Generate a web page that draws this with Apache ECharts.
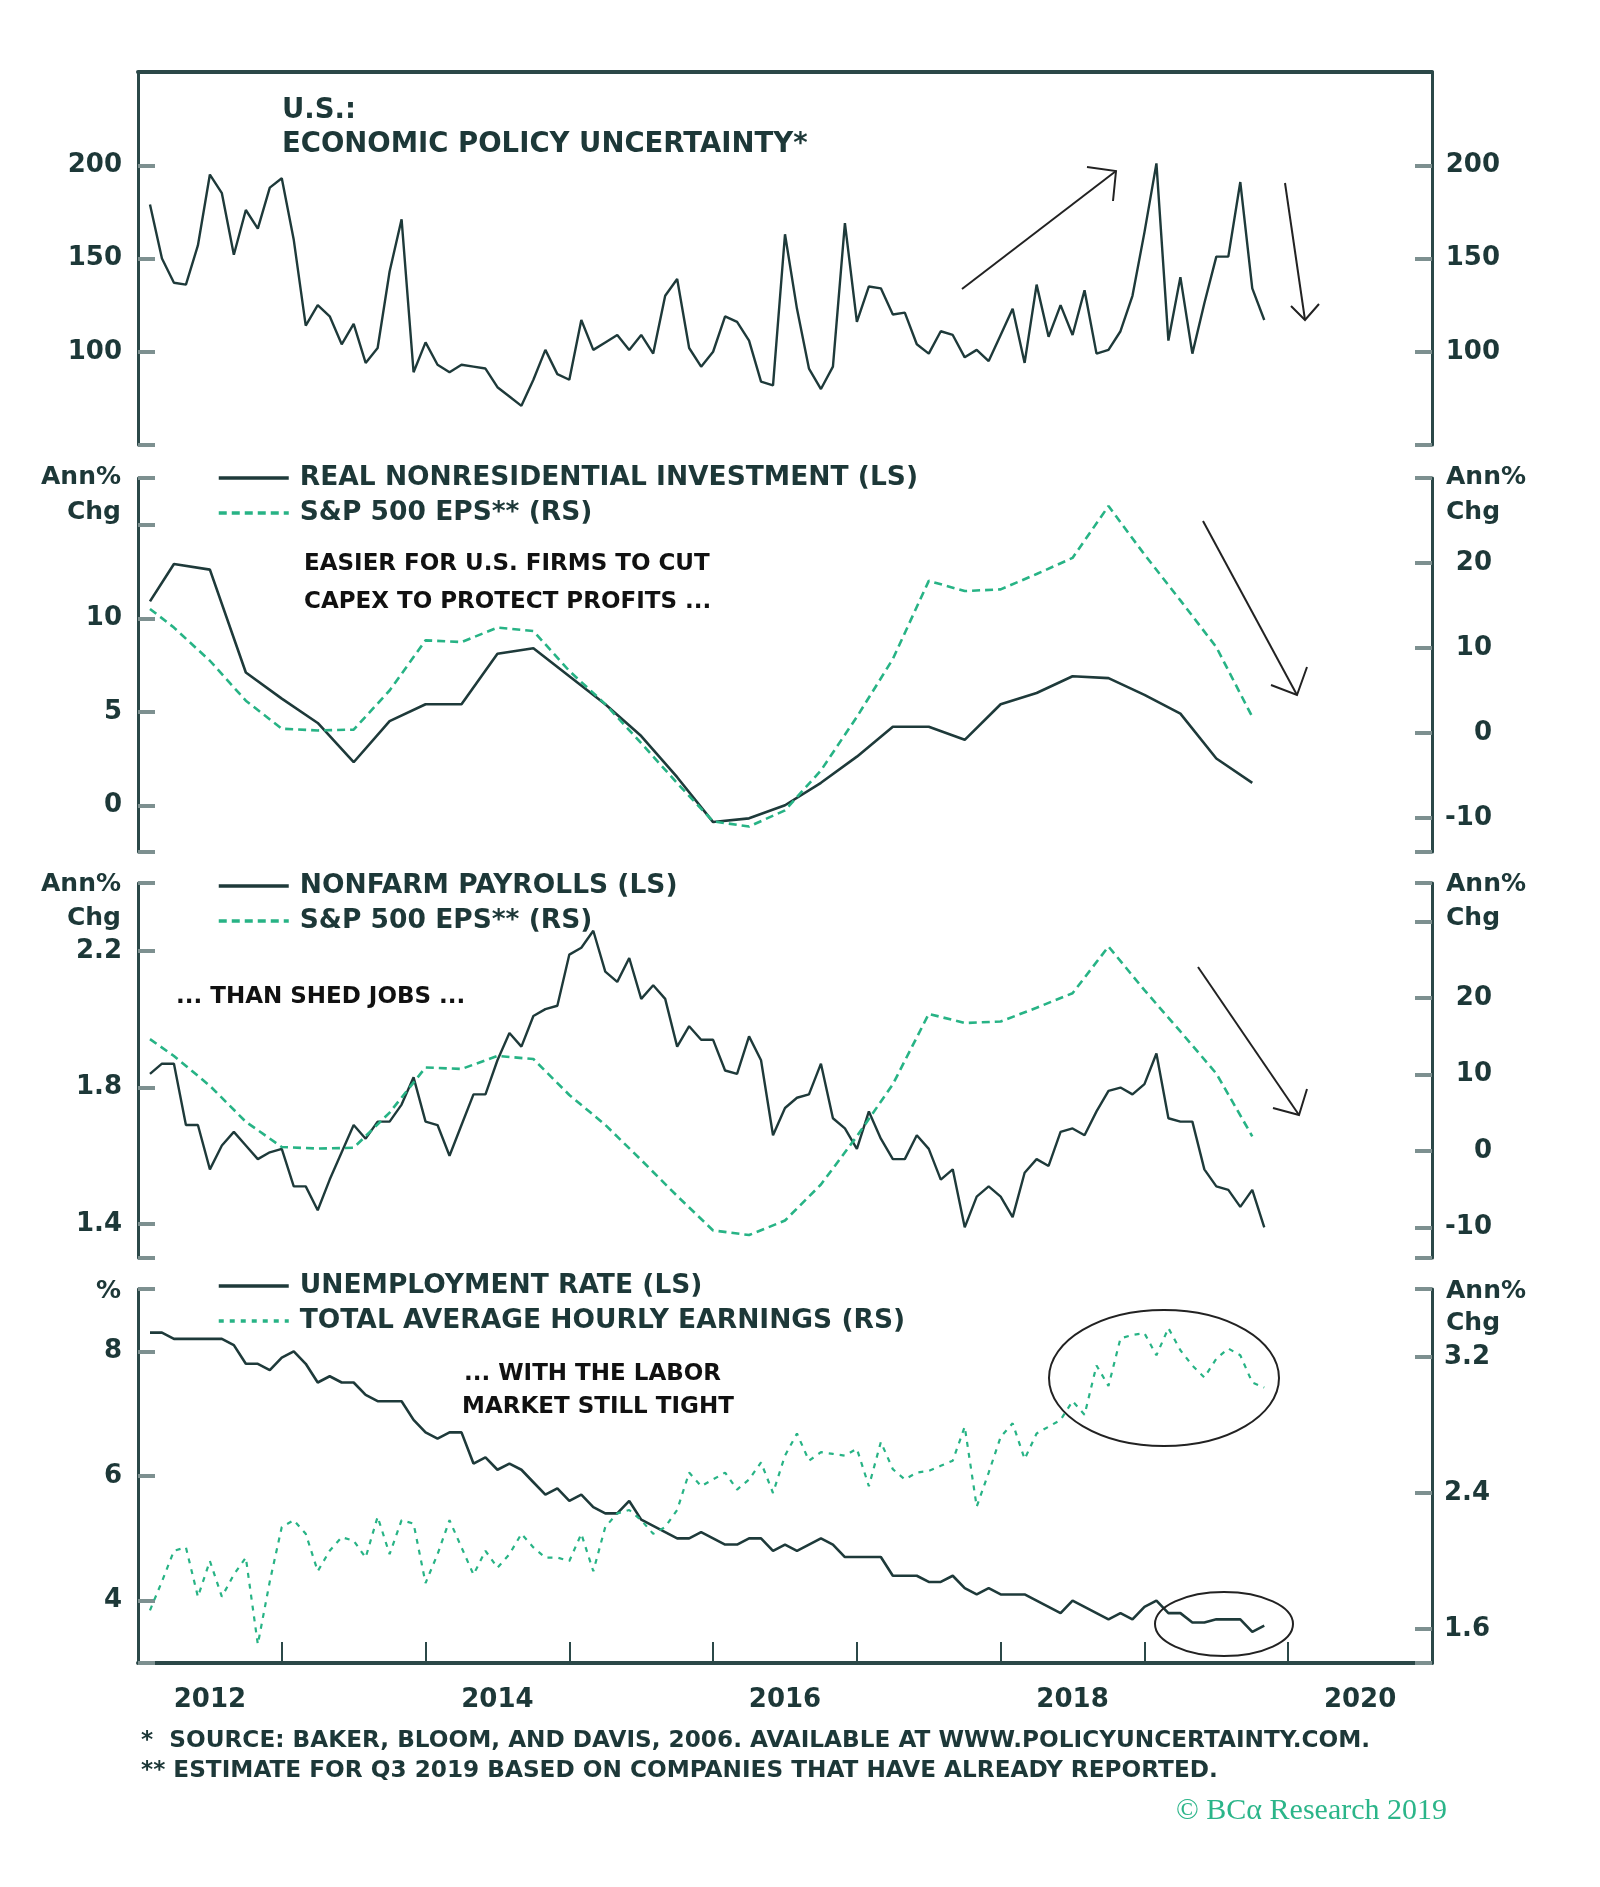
<!DOCTYPE html>
<html><head><meta charset="utf-8">
<script src="https://cdn.jsdelivr.net/npm/echarts@6/dist/echarts.min.js"></script>
<style>html,body{margin:0;padding:0;background:#fff}#c{width:1600px;height:1887px}</style>
</head><body><div id="c"></div><script>
// ---- data (monthly: Jan 2012 .. Oct 2019; quarterly: Q4 2011 .. Q3 2019) ----
const epu = [179,150,137,136,157,195,185,152,176,166,188,193,
  160,114,125,119,104,115,94,102,143,171,89,105,
  93,89,93,92,91,81,76,71,85,101,88,85,
  117,101,105,109,101,109,99,130,139,102,92,100,
  119,116,106,84,82,163,123,91,80,92,169,116,
  135,134,120,121,104,99,111,109,97,101,95,109,
  123,94,136,108,125,109,133,99,101,111,130,164,
  201,106,140,99,126,151,151,191,134,117];
const investment = [10.9,12.9,12.6,7.1,5.7,4.4,2.3,4.5,5.4,5.4,8.1,8.4,6.9,5.4,3.7,1.5,
  -0.9,-0.7,0.0,1.2,2.6,4.2,4.2,3.5,5.4,6.0,6.9,6.8,5.9,4.9,2.5,1.2];
const spEps = [14.6,12.4,8.5,3.8,0.5,0.3,0.4,5.0,10.9,10.7,12.4,12.0,7.3,3.4,-1.2,-5.9,
  -10.4,-11.0,-9.1,-4.4,1.9,8.7,17.9,16.7,16.9,18.7,20.6,26.7,21.0,15.6,10.1,1.9];
const payrolls = [1.84,1.87,1.87,1.69,1.69,1.56,1.63,1.67,1.63,1.59,1.61,1.62,
  1.51,1.51,1.44,1.53,1.61,1.69,1.65,1.70,1.70,1.75,1.83,1.70,
  1.69,1.60,1.69,1.78,1.78,1.88,1.96,1.92,2.01,2.03,2.04,2.19,
  2.21,2.26,2.14,2.11,2.18,2.06,2.10,2.06,1.92,1.98,1.94,1.94,
  1.85,1.84,1.95,1.88,1.66,1.74,1.77,1.78,1.87,1.71,1.68,1.62,
  1.73,1.65,1.59,1.59,1.66,1.62,1.53,1.56,1.39,1.48,1.51,1.48,
  1.42,1.55,1.59,1.57,1.67,1.68,1.66,1.73,1.79,1.80,1.78,1.81,
  1.90,1.71,1.70,1.70,1.56,1.51,1.50,1.45,1.50,1.39];
const unemployment = [8.3,8.3,8.2,8.2,8.2,8.2,8.2,8.1,7.8,7.8,7.7,7.9,
  8.0,7.8,7.5,7.6,7.5,7.5,7.3,7.2,7.2,7.2,6.9,6.7,
  6.6,6.7,6.7,6.2,6.3,6.1,6.2,6.1,5.9,5.7,5.8,5.6,
  5.7,5.5,5.4,5.4,5.6,5.3,5.2,5.1,5.0,5.0,5.1,5.0,
  4.9,4.9,5.0,5.0,4.8,4.9,4.8,4.9,5.0,4.9,4.7,4.7,
  4.7,4.7,4.4,4.4,4.4,4.3,4.3,4.4,4.2,4.1,4.2,4.1,
  4.1,4.1,4.0,3.9,3.8,4.0,3.9,3.8,3.7,3.8,3.7,3.9,
  4.0,3.8,3.8,3.65,3.65,3.7,3.7,3.7,3.5,3.6];
const hourlyEarnings = [1.71,1.88,2.06,2.08,1.79,2.00,1.79,1.92,2.02,1.51,1.88,2.20,
  2.24,2.16,1.94,2.06,2.14,2.12,2.02,2.26,2.04,2.24,2.22,1.87,
  2.04,2.24,2.08,1.92,2.06,1.96,2.04,2.16,2.08,2.02,2.02,2.00,
  2.16,1.94,2.20,2.28,2.30,2.24,2.16,2.20,2.30,2.52,2.44,2.48,
  2.52,2.42,2.48,2.58,2.40,2.62,2.75,2.59,2.64,2.63,2.62,2.66,
  2.44,2.70,2.54,2.48,2.52,2.53,2.56,2.59,2.79,2.32,2.52,2.73,
  2.81,2.60,2.75,2.79,2.83,2.94,2.86,3.15,3.03,3.31,3.33,3.34,
  3.21,3.37,3.24,3.15,3.08,3.19,3.25,3.21,3.05,3.02];
const yearLabels = [2012, 2014, 2016, 2018, 2020];
const yearTicks = [2013, 2014, 2015, 2016, 2017, 2018, 2019, 2020];

// dates as decimal years: monthly at end of month; quarterly at quarter end
// (the first quarterly point, Q4 2011, is drawn at the chart's first month)
const monthX = epu.map((_, i) => 2012 + (i + 1) / 12);
const quarterX = investment.map((_, q) => q === 0 ? 2012 + 1 / 12 : 2012 + q / 4);
const pairs = (xs, ys) => ys.map((v, i) => [xs[i], v]);

const NAME_EPU = 'ECONOMIC POLICY UNCERTAINTY';
const NAME_INV = 'REAL NONRESIDENTIAL INVESTMENT (LS)';
const NAME_EPS = 'S&P 500 EPS** (RS)';
const NAME_NFP = 'NONFARM PAYROLLS (LS)';
const NAME_UR = 'UNEMPLOYMENT RATE (LS)';
const NAME_AHE = 'TOTAL AVERAGE HOURLY EARNINGS (RS)';

const dark = '#1e3a3a', axisCol = '#2b4848', tickCol = '#7d9090', green = '#27b385', txt = '#1d3838';
const FONT = '"DejaVu Sans"';

const grids = [
  {left: 138, right: 168, top: 72, height: 373},
  {left: 138, right: 168, top: 478, height: 374},
  {left: 138, right: 168, top: 883, height: 375},
  {left: 138, right: 168, top: 1289, height: 374}
];

function yAx(gi, pos, min, max, ticks, labels, margin) {
  return {type: 'value', gridIndex: gi, position: pos, min: min, max: max,
    axisLine: {show: true, onZero: false, lineStyle: {color: axisCol, width: 3}},
    axisTick: {show: true, inside: true, length: 17, customValues: ticks, lineStyle: {color: tickCol, width: 4}},
    axisLabel: {show: true, customValues: labels, margin: margin, align: 'right', color: txt,
      fontSize: 26, fontWeight: 'bold', fontFamily: FONT},
    splitLine: {show: false}};
}
function hiddenX(gi) {
  return {type: 'value', gridIndex: gi, min: 2012, max: 2021, show: false};
}

const xAxis = [
  hiddenX(0),
  {type: 'value', gridIndex: 0, position: 'top', min: 2012, max: 2021,
    axisLine: {show: true, lineStyle: {color: axisCol, width: 4}}, axisTick: {show: false},
    axisLabel: {show: false}, splitLine: {show: false}},
  hiddenX(1),
  hiddenX(2),
  {type: 'value', gridIndex: 3, position: 'bottom', min: 2012, max: 2021,
    axisLine: {show: true, onZero: false, lineStyle: {color: axisCol, width: 4}},
    axisTick: {show: true, inside: true, length: 21, customValues: yearTicks, lineStyle: {color: axisCol, width: 2}},
    axisLabel: {show: true, customValues: yearLabels.map(y => y + 0.5), formatter: v => String(Math.floor(v)),
      margin: 24, color: txt, fontSize: 26, fontWeight: 'bold', fontFamily: FONT},
    splitLine: {show: false}}
];

const yAxis = [
  yAx(0, 'left', 50, 250, [50, 100, 150, 200], [100, 150, 200], 16),
  yAx(0, 'right', 50, 250, [50, 100, 150, 200], [100, 150, 200], 68),
  yAx(1, 'left', -2.5, 17.5, [-2.5, 0, 5, 10, 15, 17.5], [0, 5, 10], 16),
  yAx(1, 'right', -14, 30, [-14, -10, 0, 10, 20, 30], [-10, 0, 10, 20], 60),
  yAx(2, 'left', 1.3, 2.4, [1.3, 1.4, 1.8, 2.2, 2.4], [1.4, 1.8, 2.2], 16),
  yAx(2, 'right', -14, 35, [-14, -10, 0, 10, 20, 30, 35], [-10, 0, 10, 20], 60),
  yAx(3, 'left', 3, 9, [3, 4, 6, 8, 9], [4, 6, 8], 16),
  yAx(3, 'right', 1.4, 3.6, [1.4, 1.6, 2.4, 3.2, 3.6], [1.6, 2.4, 3.2], 58)
];

function line(name, xi, yi, data, style) {
  return {type: 'line', name: name, xAxisIndex: xi, yAxisIndex: yi, data: data,
    symbol: 'none', showSymbol: false, silent: true, animation: false,
    lineStyle: style, itemStyle: {color: style.color}};
}

const series = [
  line(NAME_EPU, 0, 0, pairs(monthX, epu), {color: dark, width: 2.4}),
  line(NAME_INV, 2, 2, pairs(quarterX, investment), {color: dark, width: 2.6}),
  line(NAME_EPS, 2, 3, pairs(quarterX, spEps), {color: green, width: 2.6, type: [8, 5]}),
  line(NAME_NFP, 3, 4, pairs(monthX, payrolls), {color: dark, width: 2.4}),
  line(NAME_EPS, 3, 5, pairs(quarterX, spEps), {color: green, width: 2.6, type: [8, 5]}),
  line(NAME_UR, 4, 6, pairs(monthX, unemployment), {color: dark, width: 2.6}),
  line(NAME_AHE, 4, 7, pairs(monthX, hourlyEarnings), {color: green, width: 2.2, type: [5, 6]})
];

function legend(top, names) {
  return {left: 212, top: top, orient: 'vertical', itemWidth: 70, itemHeight: 12, itemGap: 5,
    selectedMode: false, data: names, itemStyle: {opacity: 0},
    lineStyle: {width: 3.5},
    textStyle: {color: txt, fontSize: 26.5, fontWeight: 'bold', fontFamily: FONT, lineHeight: 30, padding: [0, 0, 0, 6]}};
}

function T(text, x, y, opt) {
  opt = opt || {};
  return {type: 'text', x: x, y: y, silent: true, z: 10,
    style: {text: text, fill: opt.fill || txt,
      font: opt.font || ('bold 25px ' + FONT),
      textAlign: opt.align || 'left', align: opt.align || 'left',
      textVerticalAlign: 'middle', verticalAlign: 'middle'}};
}
const annFont = 'bold 23px ' + FONT;
const noteFont = 'bold 23.2px ' + FONT;
function poly(points) {
  return {type: 'polyline', silent: true, z: 10, shape: {points: points},
    style: {stroke: '#222', lineWidth: 2, fill: null}};
}

const graphic = [
  T('U.S.:', 282, 111, {font: 'bold 27.5px ' + FONT}),
  T('ECONOMIC POLICY UNCERTAINTY*', 282, 145, {font: 'bold 27.5px ' + FONT}),
  T('Ann%', 121, 477, {align: 'right'}), T('Chg', 121, 512, {align: 'right'}),
  T('Ann%', 1446, 477), T('Chg', 1446, 512),
  T('Ann%', 121, 884, {align: 'right'}), T('Chg', 121, 918, {align: 'right'}),
  T('Ann%', 1446, 884), T('Chg', 1446, 918),
  T('%', 121, 1291, {align: 'right'}),
  T('Ann%', 1446, 1291), T('Chg', 1446, 1323),
  T('EASIER FOR U.S. FIRMS TO CUT', 304, 564, {font: annFont, fill: '#111'}),
  T('CAPEX TO PROTECT PROFITS ...', 304, 602, {font: annFont, fill: '#111'}),
  T('... THAN SHED JOBS ...', 176, 997, {font: annFont, fill: '#111'}),
  T('... WITH THE LABOR', 464, 1374, {font: annFont, fill: '#111'}),
  T('MARKET STILL TIGHT', 462, 1407, {font: annFont, fill: '#111'}),
  T('*  SOURCE: BAKER, BLOOM, AND DAVIS, 2006. AVAILABLE AT WWW.POLICYUNCERTAINTY.COM.', 141, 1741, {font: noteFont}),
  T('** ESTIMATE FOR Q3 2019 BASED ON COMPANIES THAT HAVE ALREADY REPORTED.', 141, 1771, {font: noteFont}),
  T('© BCα Research 2019', 1447, 1811, {font: '30px "Liberation Serif"', fill: '#2bb589', align: 'right'}),
  // arrows
  poly([[962, 289], [1116, 171]]), poly([[1087, 167], [1116, 171], [1113, 201]]),
  poly([[1285, 183], [1305, 320]]), poly([[1291, 306], [1305, 320], [1319, 304]]),
  poly([[1203, 521], [1297, 695]]), poly([[1271, 685], [1297, 695], [1307, 667]]),
  poly([[1198, 967], [1299, 1115]]), poly([[1273, 1108], [1299, 1115], [1307, 1089]]),
  // ellipses
  {type: 'ellipse', silent: true, z: 10, shape: {cx: 1164, cy: 1378, rx: 115, ry: 68},
    style: {stroke: '#222', lineWidth: 2, fill: null}},
  {type: 'ellipse', silent: true, z: 10, shape: {cx: 1224, cy: 1624, rx: 69, ry: 32},
    style: {stroke: '#222', lineWidth: 2, fill: null}}
];

const chart = echarts.init(document.getElementById('c'), null, {renderer: 'canvas'});
chart.setOption({
  backgroundColor: '#ffffff',
  animation: false,
  grid: grids,
  xAxis: xAxis,
  yAxis: yAxis,
  legend: [legend(458, [NAME_INV, NAME_EPS]), legend(866, [NAME_NFP, NAME_EPS]), legend(1266, [NAME_UR, NAME_AHE])],
  series: series,
  graphic: graphic
});
</script></body></html>
